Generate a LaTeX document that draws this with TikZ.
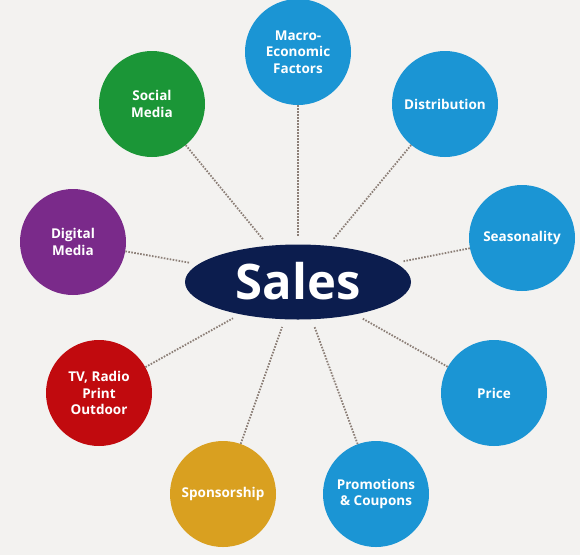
\documentclass[tikz,border=0pt]{standalone}
\usepackage{fontspec}
\setsansfont{Open Sans}
\usetikzlibrary{shapes.geometric}
\definecolor{cbg}{HTML}{F3F2F0}
\definecolor{cnavy}{HTML}{0C1D4E}
\definecolor{cblue}{HTML}{1B95D4}
\definecolor{cgreen}{HTML}{1B9637}
\definecolor{cpurple}{HTML}{7A2A8A}
\definecolor{cred}{HTML}{C10A0E}
\definecolor{cgold}{HTML}{D9A020}
\definecolor{cdots}{HTML}{8C7F77}
\tikzset{
  every picture/.style={font=\sffamily\bfseries},
  topic/.style={circle, fill=#1, text=white, minimum size=106pt, inner sep=0pt, align=center,
    font=\sffamily\bfseries\fontsize{13.5}{16.5}\selectfont},
  topic/.default=cblue,
  hub/.style={ellipse, fill=cnavy, text=white, minimum width=226pt, minimum height=75pt, inner sep=0pt,
    font=\sffamily\bfseries\fontsize{49}{54}\selectfont},
  link/.style={draw=cdots, line width=1.8pt, dash pattern=on 1.6pt off 1.4pt, shorten >=8pt},
}

\begin{document}
\begin{tikzpicture}[x=1pt, y=-1pt]
  \fill[cbg] (0,0) rectangle (580,555);
  \useasboundingbox (0,0) rectangle (580,555);
  % the hub in the middle
  \node[hub] (sales) at (298,282) {\raisebox{2pt}{Sales}};
  % the nine drivers round it
  \foreach \i/\c/\x/\y/\txt in {
      0/cblue/298/52/Macro-\\Economic\\Factors,
      1/cblue/445/104/Distribution,
      2/cblue/522/238/Seasonality,
      3/cblue/494/393/Price,
      4/cblue/376/494/Promotions\\\& Coupons,
      5/cgold/223/494/Sponsorship,
      6/cred/99/393/{TV, Radio\\Print\\Outdoor},
      7/cpurple/73/242/Digital\\Media,
      8/cgreen/152/104/Social\\Media} {
    \node[topic=\c] (t\i) at (\x,\y) {\txt};
    \draw[link] (t\i) -- (sales);
  }
\end{tikzpicture}
\end{document}
